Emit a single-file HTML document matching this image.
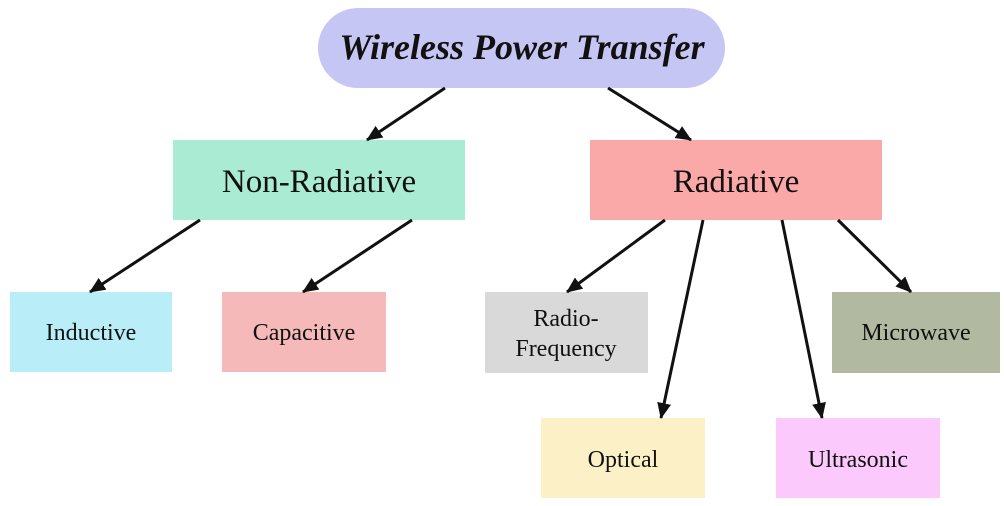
<!DOCTYPE html>
<html><head><style>
body{margin:0;background:#fff;}
svg{display:block}
text{font-family:"Liberation Serif",serif;fill:#111;text-anchor:middle;}
</style></head><body>
<svg width="1004" height="506" viewBox="0 0 1004 506">
<defs><marker id="b" markerWidth="16" markerHeight="14" refX="15" refY="7" orient="auto" markerUnits="userSpaceOnUse"><path d="M0,0 L16,7 L0,14 z" fill="#111"/></marker></defs>
<rect x="318" y="8" width="407" height="80" rx="40" fill="#c6c6f4"/>
<text x="522" y="59" font-size="36" font-weight="bold" font-style="italic">Wireless Power Transfer</text>
<rect x="173" y="140" width="292" height="80" fill="#a9ebd3"/>
<text x="319" y="192" font-size="33">Non-Radiative</text>
<rect x="590" y="140" width="292" height="80" fill="#fba9a8"/>
<text x="736" y="192" font-size="33">Radiative</text>
<rect x="10" y="292" width="162" height="80" fill="#b9eef8"/>
<text x="91" y="340" font-size="24">Inductive</text>
<rect x="222" y="292" width="164" height="80" fill="#f4b9b8"/>
<text x="304" y="340" font-size="24">Capacitive</text>
<rect x="485" y="292" width="163" height="81" fill="#d9d9d9"/>
<text x="566" y="326" font-size="24">Radio-</text>
<text x="566" y="356" font-size="24">Frequency</text>
<rect x="832" y="292" width="168" height="81" fill="#b1b9a1"/>
<text x="916" y="340" font-size="24">Microwave</text>
<rect x="541" y="418" width="164" height="80" fill="#fcf1c6"/>
<text x="623" y="467" font-size="24">Optical</text>
<rect x="776" y="418" width="164" height="80" fill="#fbc9fb"/>
<text x="858" y="467" font-size="24">Ultrasonic</text>
<g stroke="#111" stroke-width="3" marker-end="url(#b)">
<line x1="445" y1="88" x2="367" y2="140"/>
<line x1="608" y1="88" x2="691" y2="140"/>
<line x1="200" y1="220" x2="90" y2="292"/>
<line x1="412" y1="220" x2="303" y2="292"/>
<line x1="665" y1="220" x2="567" y2="292"/>
<line x1="703" y1="220" x2="661" y2="418"/>
<line x1="782" y1="220" x2="822" y2="418"/>
<line x1="838" y1="220" x2="911" y2="292"/>
</g>
</svg>
</body></html>
